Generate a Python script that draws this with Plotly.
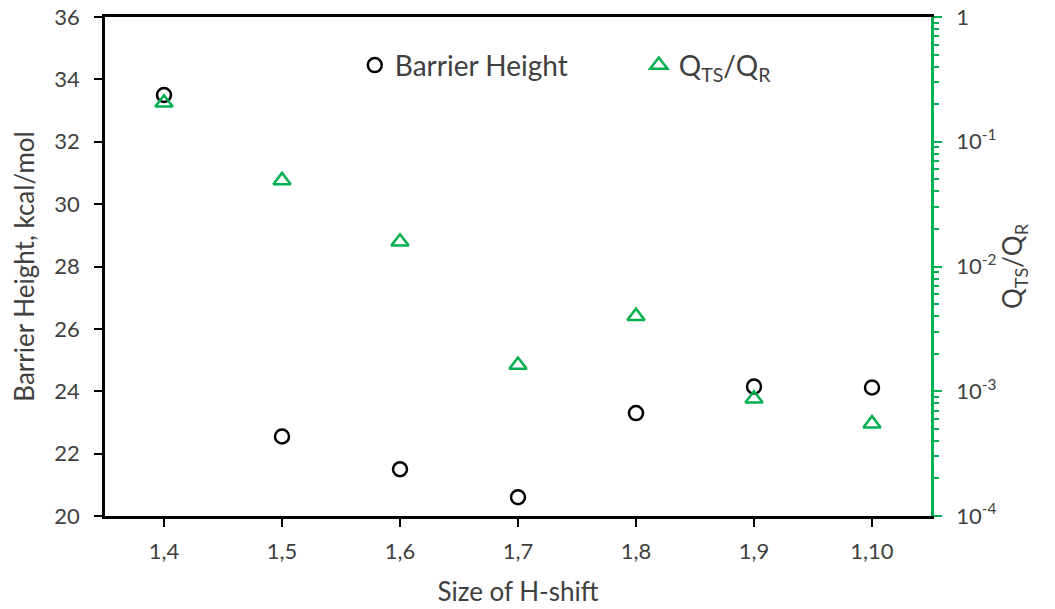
import plotly.graph_objects as go

categories = ["1,4", "1,5", "1,6", "1,7", "1,8", "1,9", "1,10"]
barrier_height = [33.5, 22.55, 21.5, 20.6, 23.3, 24.15, 24.12]
q_ratio = [0.205, 0.049, 0.0158, 0.00162, 0.0040, 0.00087, 0.00055]
left_ticks = [20, 22, 24, 26, 28, 30, 32, 34, 36]
right_ticks = [1e-4, 1e-3, 1e-2, 1e-1, 1]
right_ticktext = ["10<sup>-4</sup>", "10<sup>-3</sup>", "10<sup>-2</sup>", "10<sup>-1</sup>", "1"]

xpos = list(range(1, len(categories) + 1))
minor_vals = [m * 10 ** e for e in range(-4, 0) for m in range(2, 10)]

GREEN = "#00B050"
FONT = "Lato, Open Sans, sans-serif"
TXT = "#404040"
TICK_SIZE = 22
TITLE_SIZE = 26

fig = go.Figure()
fig.add_trace(go.Scatter(
    x=xpos, y=barrier_height, mode="markers", name="Barrier Height",
    marker=dict(symbol="circle-open", size=14, color="black", line=dict(width=2.5, color="black")),
    yaxis="y",
))
fig.add_trace(go.Scatter(
    x=xpos, y=q_ratio, mode="markers", name="Q<sub>TS</sub>/Q<sub>R</sub>",
    marker=dict(symbol="triangle-up-open", size=15, color=GREEN, line=dict(width=2.5, color=GREEN)),
    yaxis="y2",
))

fig.update_layout(
    width=1055, height=609,
    margin=dict(l=105, r=124, t=17, b=93),
    paper_bgcolor="white", plot_bgcolor="white",
    font=dict(family=FONT, size=TICK_SIZE, color=TXT),
    showlegend=True,
    legend=dict(
        orientation="h", x=0.3024, y=0.903, xanchor="left", yanchor="middle",
        font=dict(size=28, color=TXT), bgcolor="rgba(0,0,0,0)",
        entrywidth=239, entrywidthmode="pixels", itemsizing="trace",
    ),
    xaxis=dict(
        range=[0.5, 7.5], tickvals=xpos, ticktext=categories,
        showline=True, linecolor="black", linewidth=2.5, mirror=True,
        ticks="outside", ticklen=8, tickwidth=2, tickcolor="black",
        ticklabelstandoff=6, automargin=False,
        showgrid=False, zeroline=False,
        title=dict(text="Size of H-shift", font=dict(size=TITLE_SIZE, color=TXT), standoff=20),
        tickfont=dict(size=TICK_SIZE, color=TXT),
    ),
    yaxis=dict(
        range=[20, 36], tickvals=left_ticks,
        showline=True, linecolor="black", linewidth=2.5,
        ticks="outside", ticklen=8, tickwidth=2, tickcolor="black",
        ticklabelstandoff=10, automargin=False,
        showgrid=False, zeroline=False,
        title=dict(text="Barrier Height, kcal/mol", font=dict(size=TITLE_SIZE, color=TXT), standoff=13),
        tickfont=dict(size=TICK_SIZE, color=TXT),
    ),
    yaxis2=dict(
        type="log", range=[-4, 0], overlaying="y", side="right", anchor="x",
        tickvals=right_ticks, ticktext=right_ticktext,
        showline=True, linecolor=GREEN, linewidth=2.5,
        ticks="outside", ticklen=8, tickwidth=2, tickcolor=GREEN,
        ticklabelstandoff=10, automargin=False,
        minor=dict(tickvals=minor_vals, ticks="outside", ticklen=5, tickwidth=2, tickcolor=GREEN, showgrid=False),
        showgrid=False, zeroline=False,
        title=dict(text="Q<sub>TS</sub>/Q<sub>R</sub>", font=dict(size=TITLE_SIZE, color=TXT), standoff=7),
        tickfont=dict(size=TICK_SIZE, color=TXT),
    ),
)

fig.write_html("out.html")
